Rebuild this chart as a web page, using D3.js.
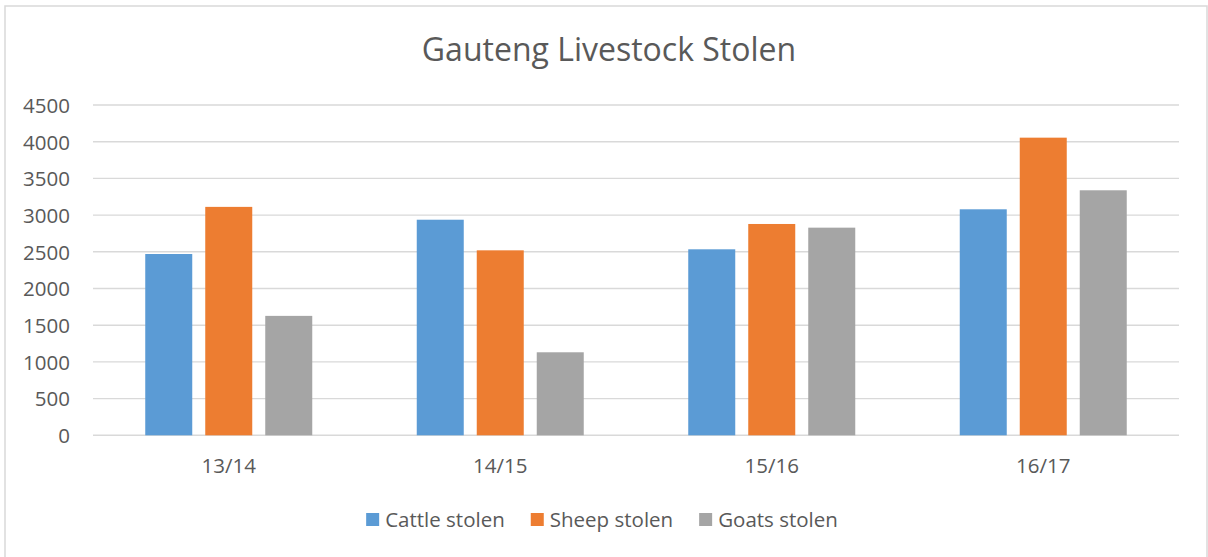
<!DOCTYPE html>
<html>
<head>
<meta charset="utf-8">
<script src="https://cdn.jsdelivr.net/npm/d3@7"></script>
<style>
  body { margin: 0; background: #fff; }
  text { font-family: "Open Sans", sans-serif; fill: #595959; }
</style>
</head>
<body>
<svg id="chart"></svg>
<script>
// Data
let categories = ["13/14", "14/15", "15/16", "16/17"];
let series = ["Cattle stolen", "Sheep stolen", "Goats stolen"];
let cattle = [2470, 2937, 2534, 3079];
let sheep = [3112, 2520, 2879, 4055];
let goats = [1627, 1131, 2829, 3338];
let yTicks = [0, 500, 1000, 1500, 2000, 2500, 3000, 3500, 4000, 4500];
let colors = ["#5b9bd5", "#ed7d31", "#a5a5a5"];

let values = [cattle, sheep, goats];

// SVG Size
let width = 1208;
let height = 557;
let plot = { left: 93, right: 1179, top: 105, bottom: 435.3 };

let svg = d3.select("#chart")
    .attr("width", width)
    .attr("height", height);

// chart frame
svg.append("rect")
    .attr("x", 5).attr("y", 6)
    .attr("width", 1202).attr("height", 556)
    .attr("fill", "#fff")
    .attr("stroke", "#d9d9d9")
    .attr("stroke-width", 1.5);

// Scales
let x0 = d3.scaleBand()
    .domain(categories)
    .range([plot.left, plot.right]);

let groupW = 167;
let x1 = d3.scaleBand()
    .domain(series)
    .range([(x0.bandwidth() - groupW) / 2, (x0.bandwidth() + groupW) / 2])
    .paddingInner(13 / 60);

let y = d3.scaleLinear()
    .domain([0, 4500])
    .range([plot.bottom, plot.top]);

let color = d3.scaleOrdinal().domain(series).range(colors);

// Title
svg.append("text")
    .attr("x", 609)
    .attr("y", 61)
    .attr("text-anchor", "middle")
    .style("font-size", "32px")
    .text("Gauteng Livestock Stolen");

// Gridlines
svg.append("g")
    .selectAll("line")
    .data(yTicks)
    .enter()
    .append("line")
    .attr("x1", plot.left)
    .attr("x2", plot.right)
    .attr("y1", d => y(d))
    .attr("y2", d => y(d))
    .attr("stroke", "#d9d9d9")
    .attr("stroke-width", 1.4);

// Y axis labels
let yAxis = svg.append("g")
    .attr("transform", "translate(70,0)")
    .call(d3.axisLeft(y).tickValues(yTicks).tickFormat(d3.format("d")).tickSize(0).tickPadding(0));
yAxis.select(".domain").remove();
yAxis.selectAll("text")
    .attr("dy", "0.36em")
    .style("font-size", "20.5px")
    .style("font-family", "'Open Sans', sans-serif")
    .attr("fill", "#595959");

// X axis labels
let xAxis = svg.append("g")
    .attr("transform", `translate(0,${plot.bottom})`)
    .call(d3.axisBottom(x0).tickSize(0).tickPadding(0));
xAxis.select(".domain").remove();
xAxis.selectAll("text")
    .attr("y", 38)
    .attr("dy", 0)
    .style("font-size", "20.5px")
    .style("font-family", "'Open Sans', sans-serif")
    .attr("fill", "#595959");

// Bars
let groups = svg.selectAll("g.group")
    .data(categories)
    .enter()
    .append("g")
    .attr("class", "group")
    .attr("transform", d => `translate(${x0(d)},0)`);

groups.selectAll("rect")
    .data((d, i) => series.map((s, j) => ({ s: s, v: values[j][i] })))
    .enter()
    .append("rect")
    .attr("x", d => x1(d.s))
    .attr("width", x1.bandwidth())
    .attr("y", d => y(d.v))
    .attr("height", d => y(0) - y(d.v))
    .attr("fill", d => color(d.s));

// Legend
let legend = svg.append("g");
let items = legend.selectAll("g")
    .data(series)
    .enter()
    .append("g");

items.append("rect")
    .attr("width", 13)
    .attr("height", 13)
    .attr("y", 513)
    .attr("fill", d => color(d));

items.append("text")
    .attr("x", 19)
    .attr("y", 527)
    .style("font-size", "20.5px")
    .text(d => d);

// place items side by side, centred
let pos = 0;
let offsets = [];
items.each(function () {
    offsets.push(pos);
    pos += 19 + this.querySelector("text").getComputedTextLength() + 26;
});
let total = pos - 26;
let start = 602 - total / 2;
items.attr("transform", (d, i) => `translate(${start + offsets[i]},0)`);
</script>
</body>
</html>
